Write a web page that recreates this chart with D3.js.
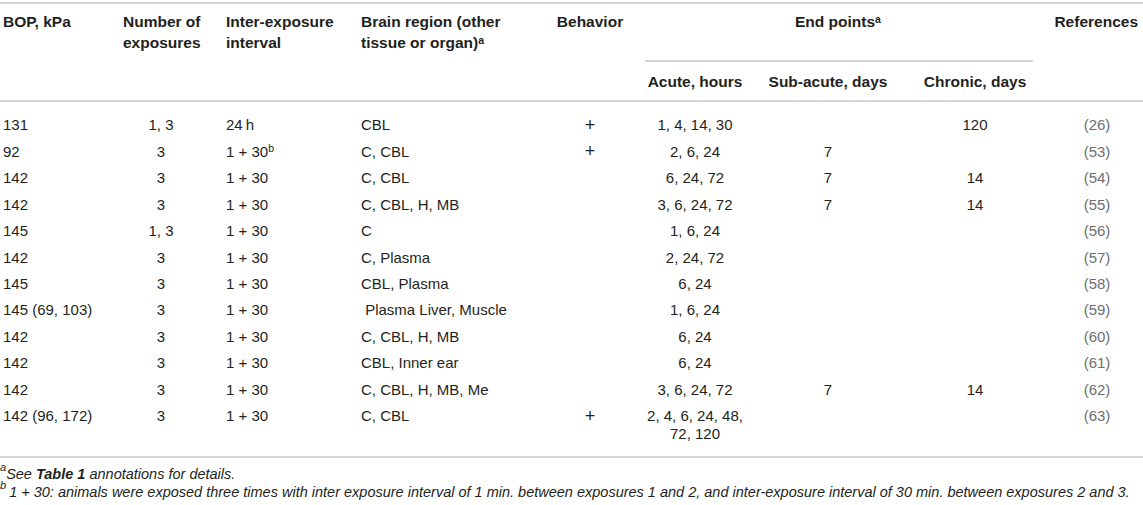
<!DOCTYPE html>
<html>
<head>
<meta charset="utf-8">
<script src="https://cdnjs.cloudflare.com/ajax/libs/d3/7.8.5/d3.min.js"></script>
<style>
  html, body { margin: 0; padding: 0; background: #fff; }
  svg { display: block; font-family: "Liberation Sans", Arial, Helvetica, sans-serif; }
</style>
</head>
<body>
<svg id="table" width="1143" height="505"></svg>
<script>
// table values, one array per column
const bop = ["131", "92", "142", "142", "145", "142", "145", "145 (69, 103)", "142", "142", "142", "142 (96, 172)"];
const exposures = ["1, 3", "3", "3", "3", "1, 3", "3", "3", "3", "3", "3", "3", "3"];
const interval = ["24\u2009h", "1 + 30", "1 + 30", "1 + 30", "1 + 30", "1 + 30", "1 + 30", "1 + 30", "1 + 30", "1 + 30", "1 + 30", "1 + 30"];
const interval_note = ["", "b", "", "", "", "", "", "", "", "", "", ""];
const region = ["CBL", "C, CBL", "C, CBL", "C, CBL, H, MB", "C", "C, Plasma", "CBL, Plasma", " Plasma Liver, Muscle", "C, CBL, H, MB", "CBL, Inner ear", "C, CBL, H, MB, Me", "C, CBL"];
const behavior = ["+", "+", "", "", "", "", "", "", "", "", "", "+"];
const acute = [["1, 4, 14, 30"], ["2, 6, 24"], ["6, 24, 72"], ["3, 6, 24, 72"], ["1, 6, 24"], ["2, 24, 72"], ["6, 24"], ["1, 6, 24"], ["6, 24"], ["6, 24"], ["3, 6, 24, 72"], ["2, 4, 6, 24, 48,", "72, 120"]];
const subacute = ["", "7", "7", "7", "", "", "", "", "", "", "7", ""];
const chronic = ["120", "", "14", "14", "", "", "", "", "", "", "14", ""];
const refs = ["26", "53", "54", "55", "56", "57", "58", "59", "60", "61", "62", "63"];

const column_keys = ["bop", "exposures", "interval", "region", "behavior", "acute", "subacute", "chronic", "refs"];
const header_lines = [["BOP, kPa"], ["Number of", "exposures"], ["Inter-exposure", "interval"], ["Brain region (other", "tissue or organ)"], ["Behavior"], ["Acute, hours"], ["Sub-acute, days"], ["Chronic, days"], ["References"]];

const svg = d3.select("#table");
const W = 1143;
const font_size = 15;
const line_color = "#c8c8c8";
const text_color = "#231f20";

// x anchor of each column and its text alignment
const col_x = d3.scaleOrdinal()
    .domain(column_keys)
    .range([3, 161, 226, 361, 590, 695, 828, 975, 1097]);
const col_anchor = d3.scaleOrdinal()
    .domain(column_keys)
    .range(["start", "middle", "start", "start", "middle", "middle", "middle", "middle", "middle"]);
const header_x = d3.scaleOrdinal()
    .domain(column_keys)
    .range([3, 123, 226, 361, 590, 695, 828, 975, 1138]);
const header_anchor = d3.scaleOrdinal()
    .domain(column_keys)
    .range(["start", "start", "start", "start", "middle", "middle", "middle", "middle", "end"]);

const row_y = d3.scalePoint()
    .domain(d3.range(bop.length))
    .range([125, 416]);
const wrap_gap = 18;

// horizontal rules
const rules = [
    { x1: 0, x2: W, y: 3 },
    { x1: 645, x2: 1033, y: 61 },
    { x1: 0, x2: W, y: 101 },
    { x1: 0, x2: W, y: 457 }
];
svg.append("g")
    .selectAll("line")
    .data(rules)
    .enter()
    .append("line")
    .attr("x1", d => d.x1)
    .attr("x2", d => d.x2)
    .attr("y1", d => d.y)
    .attr("y2", d => d.y)
    .attr("stroke", line_color)
    .attr("stroke-width", 1.6);

// header
const header = svg.append("g")
    .attr("font-weight", "bold")
    .attr("font-size", 15.5)
    .attr("fill", text_color);

column_keys.forEach((key, i) => {
    const lower = ["acute", "subacute", "chronic"].includes(key);
    const top = lower ? 82 : 22;
    const t = header.append("text")
        .attr("x", header_x(key))
        .attr("text-anchor", header_anchor(key));
    header_lines[i].forEach((line, j) => {
        t.append("tspan")
            .attr("x", header_x(key))
            .attr("y", top + j * 21)
            .attr("dy", "0.35em")
            .text(line);
    });
    if (key === "region") {
        t.append("tspan")
            .attr("font-size", 10.5)
            .attr("dy", "-0.45em")
            .text("a");
    }
});

const end_points = header.append("text")
    .attr("x", 838)
    .attr("y", 22)
    .attr("dy", "0.35em")
    .attr("text-anchor", "middle");
end_points.append("tspan").text("End points");
end_points.append("tspan").attr("font-size", 10.5).attr("dy", "-0.45em").text("a");

// body
const body = svg.append("g")
    .attr("font-size", font_size)
    .attr("fill", text_color);

const columns = { bop, exposures, interval, region, subacute, chronic };

Object.keys(columns).forEach(key => {
    const texts = body.append("g")
        .selectAll("text")
        .data(columns[key])
        .enter()
        .append("text")
        .attr("x", col_x(key))
        .attr("y", (d, i) => row_y(i))
        .attr("dy", "0.35em")
        .attr("text-anchor", col_anchor(key))
        .attr("xml:space", "preserve")
        .text(d => d);
    if (key === "interval") {
        texts.each(function (d, i) {
            if (interval_note[i] === "") return;
            d3.select(this).append("tspan")
                .attr("font-size", 10.5)
                .attr("dy", "-0.45em")
                .text(interval_note[i]);
        });
    }
});

// behaviour marks drawn a little larger, like the source's plus sign
body.append("g")
    .selectAll("text")
    .data(behavior)
    .enter()
    .append("text")
    .attr("x", col_x("behavior"))
    .attr("y", (d, i) => row_y(i))
    .attr("dy", "0.33em")
    .attr("text-anchor", col_anchor("behavior"))
    .attr("font-size", 18)
    .attr("font-weight", 300)
    .text(d => d);

body.append("g")
    .selectAll("text")
    .data(acute)
    .enter()
    .append("text")
    .attr("text-anchor", "middle")
    .each(function (lines, i) {
        d3.select(this).selectAll("tspan")
            .data(lines)
            .enter()
            .append("tspan")
            .attr("x", col_x("acute"))
            .attr("y", (d, j) => row_y(i) + j * wrap_gap)
            .attr("dy", "0.35em")
            .text(d => d);
    });

body.append("g")
    .selectAll("text")
    .data(refs)
    .enter()
    .append("text")
    .attr("x", col_x("refs"))
    .attr("y", (d, i) => row_y(i))
    .attr("dy", "0.35em")
    .attr("text-anchor", "middle")
    .attr("fill", "#6d6e71")
    .text(d => "(" + d + ")");

// footnotes
const notes = svg.append("g")
    .attr("font-size", 14.5)
    .attr("font-style", "italic")
    .attr("fill", text_color);

const note_a = notes.append("text").attr("x", 0).attr("y", 473).attr("dy", "0.35em");
note_a.append("tspan").attr("font-size", 11).attr("dy", "-0.15em").text("a");
note_a.append("tspan").attr("dy", "0.5em").text("See ");
note_a.append("tspan").attr("font-weight", "bold").text("Table 1");
note_a.append("tspan").text(" annotations for details.");

const note_b = notes.append("text").attr("x", 0).attr("y", 491).attr("dy", "0.35em");
note_b.append("tspan").attr("font-size", 11).attr("dy", "-0.15em").text("b");
note_b.append("tspan").attr("dy", "0.5em").attr("dx", 3)
    .text("1 + 30: animals were exposed three times with inter exposure interval of 1 min. between exposures 1 and 2, and inter-exposure interval of 30 min. between exposures 2 and 3.");
</script>
</body>
</html>
